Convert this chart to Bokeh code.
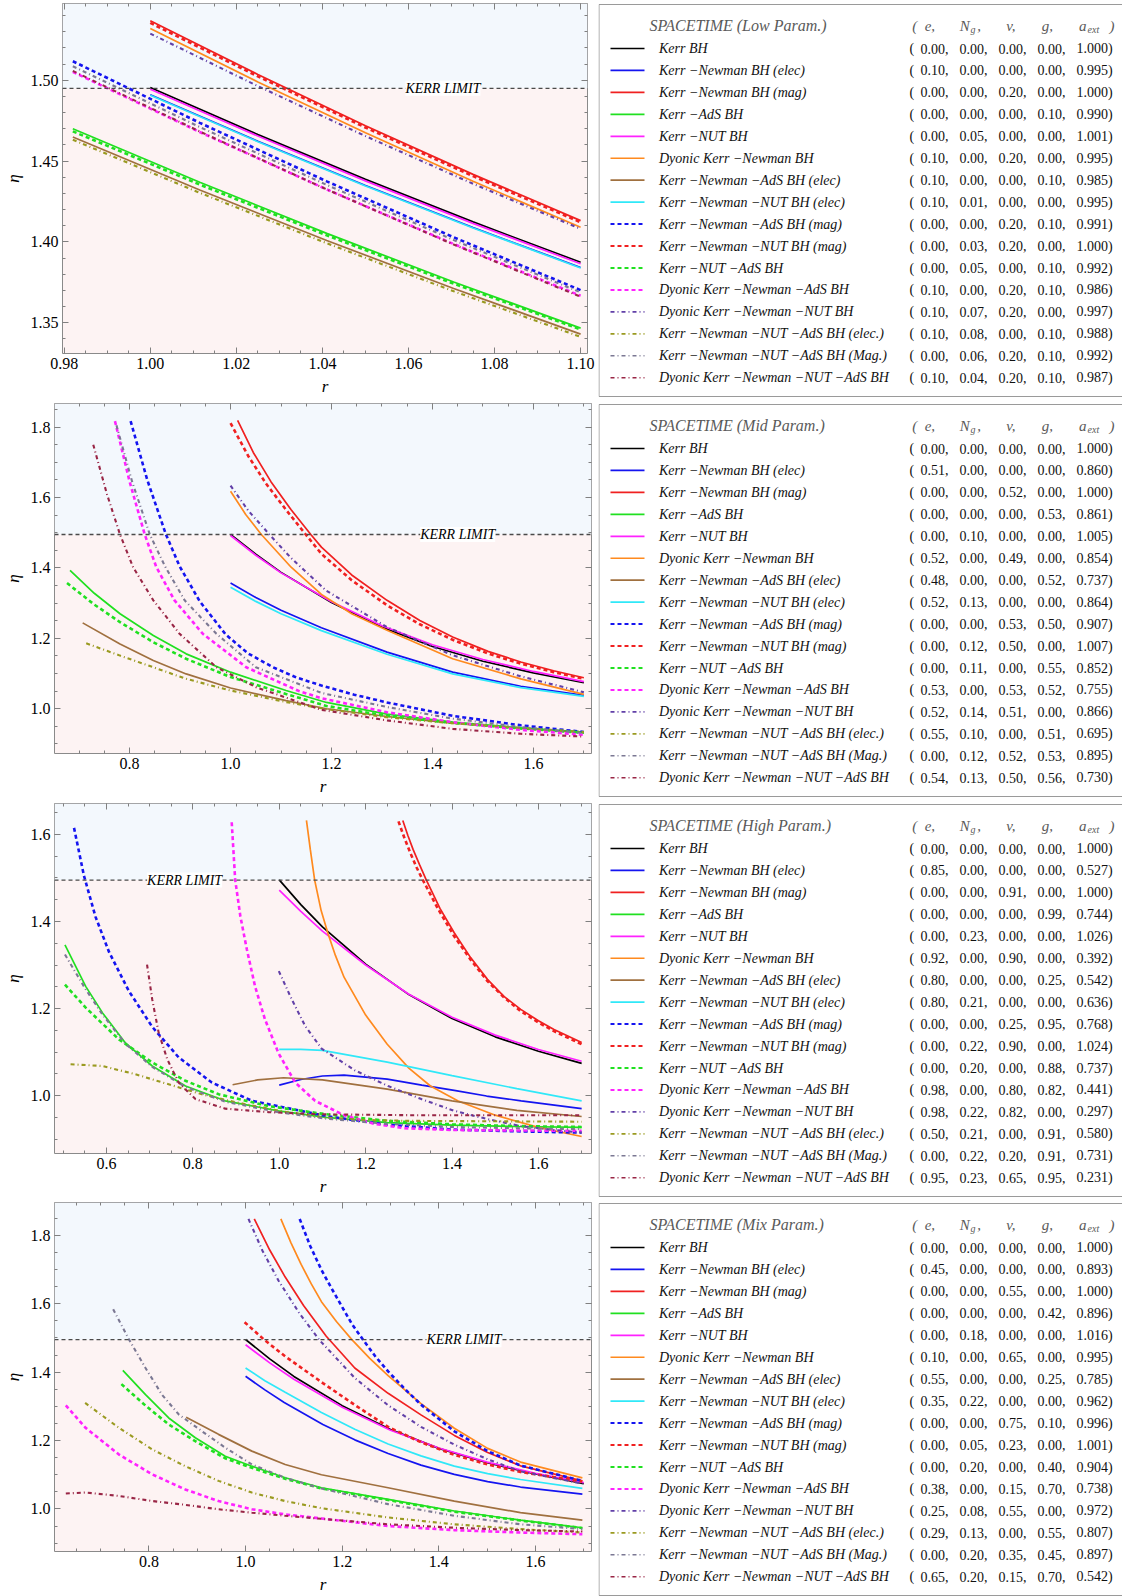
from bokeh.plotting import figure
from bokeh.models import (Range1d, LinearAxis, SingleIntervalTicker, PrintfTickFormatter,
                          BoxAnnotation, Span, Label)
from bokeh.layouts import row, column
from bokeh.embed import file_html
from bokeh.resources import INLINE
from bokeh.core.properties import value

# ---------------------------------------------------------------- data
KERR_LIMIT = 1.495

NAMES = ["Kerr BH", "Kerr −Newman BH (elec)", "Kerr −Newman BH (mag)", "Kerr −AdS BH",
         "Kerr −NUT BH", "Dyonic Kerr −Newman BH", "Kerr −Newman −AdS BH (elec)",
         "Kerr −Newman −NUT BH (elec)", "Kerr −Newman −AdS BH (mag)",
         "Kerr −Newman −NUT BH (mag)", "Kerr −NUT −AdS BH", "Dyonic Kerr −Newman −AdS BH",
         "Dyonic Kerr −Newman −NUT BH", "Kerr −Newman −NUT −AdS BH (elec.)",
         "Kerr −Newman −NUT −AdS BH (Mag.)", "Dyonic Kerr −Newman −NUT −AdS BH"]

TITLES = ["SPACETIME (Low Param.)", "SPACETIME (Mid Param.)",
          "SPACETIME (High Param.)", "SPACETIME (Mix Param.)"]

LOW_PARAMS = [(0.00, 0.00, 0.00, 0.00, 1.000), (0.10, 0.00, 0.00, 0.00, 0.995),
              (0.00, 0.00, 0.20, 0.00, 1.000), (0.00, 0.00, 0.00, 0.10, 0.990),
              (0.00, 0.05, 0.00, 0.00, 1.001), (0.10, 0.00, 0.20, 0.00, 0.995),
              (0.10, 0.00, 0.00, 0.10, 0.985), (0.10, 0.01, 0.00, 0.00, 0.995),
              (0.00, 0.00, 0.20, 0.10, 0.991), (0.00, 0.03, 0.20, 0.00, 1.000),
              (0.00, 0.05, 0.00, 0.10, 0.992), (0.10, 0.00, 0.20, 0.10, 0.986),
              (0.10, 0.07, 0.20, 0.00, 0.997), (0.10, 0.08, 0.00, 0.10, 0.988),
              (0.00, 0.06, 0.20, 0.10, 0.992), (0.10, 0.04, 0.20, 0.10, 0.987)]
MID_PARAMS = [(0.00, 0.00, 0.00, 0.00, 1.000), (0.51, 0.00, 0.00, 0.00, 0.860),
              (0.00, 0.00, 0.52, 0.00, 1.000), (0.00, 0.00, 0.00, 0.53, 0.861),
              (0.00, 0.10, 0.00, 0.00, 1.005), (0.52, 0.00, 0.49, 0.00, 0.854),
              (0.48, 0.00, 0.00, 0.52, 0.737), (0.52, 0.13, 0.00, 0.00, 0.864),
              (0.00, 0.00, 0.53, 0.50, 0.907), (0.00, 0.12, 0.50, 0.00, 1.007),
              (0.00, 0.11, 0.00, 0.55, 0.852), (0.53, 0.00, 0.53, 0.52, 0.755),
              (0.52, 0.14, 0.51, 0.00, 0.866), (0.55, 0.10, 0.00, 0.51, 0.695),
              (0.00, 0.12, 0.52, 0.53, 0.895), (0.54, 0.13, 0.50, 0.56, 0.730)]
HIGH_PARAMS = [(0.00, 0.00, 0.00, 0.00, 1.000), (0.85, 0.00, 0.00, 0.00, 0.527),
               (0.00, 0.00, 0.91, 0.00, 1.000), (0.00, 0.00, 0.00, 0.99, 0.744),
               (0.00, 0.23, 0.00, 0.00, 1.026), (0.92, 0.00, 0.90, 0.00, 0.392),
               (0.80, 0.00, 0.00, 0.25, 0.542), (0.80, 0.21, 0.00, 0.00, 0.636),
               (0.00, 0.00, 0.25, 0.95, 0.768), (0.00, 0.22, 0.90, 0.00, 1.024),
               (0.00, 0.20, 0.00, 0.88, 0.737), (0.98, 0.00, 0.80, 0.82, 0.441),
               (0.98, 0.22, 0.82, 0.00, 0.297), (0.50, 0.21, 0.00, 0.91, 0.580),
               (0.00, 0.22, 0.20, 0.91, 0.731), (0.95, 0.23, 0.65, 0.95, 0.231)]
MIX_PARAMS = [(0.00, 0.00, 0.00, 0.00, 1.000), (0.45, 0.00, 0.00, 0.00, 0.893),
              (0.00, 0.00, 0.55, 0.00, 1.000), (0.00, 0.00, 0.00, 0.42, 0.896),
              (0.00, 0.18, 0.00, 0.00, 1.016), (0.10, 0.00, 0.65, 0.00, 0.995),
              (0.55, 0.00, 0.00, 0.25, 0.785), (0.35, 0.22, 0.00, 0.00, 0.962),
              (0.00, 0.00, 0.75, 0.10, 0.996), (0.00, 0.05, 0.23, 0.00, 1.001),
              (0.00, 0.20, 0.00, 0.40, 0.904), (0.38, 0.00, 0.15, 0.70, 0.738),
              (0.25, 0.08, 0.55, 0.00, 0.972), (0.29, 0.13, 0.00, 0.55, 0.807),
              (0.00, 0.20, 0.35, 0.45, 0.897), (0.65, 0.20, 0.15, 0.70, 0.542)]

# ---- Low parameters: r and eta for the 16 spacetimes (legend order)
LOW_R = [
    [1.000, 1.025, 1.050, 1.075, 1.100],
    [1.000, 1.025, 1.050, 1.075, 1.100],
    [1.000, 1.025, 1.050, 1.075, 1.100],
    [0.982, 1.0115, 1.041, 1.0705, 1.100],
    [1.000, 1.025, 1.050, 1.075, 1.100],
    [1.000, 1.025, 1.050, 1.075, 1.100],
    [0.982, 1.0115, 1.041, 1.0705, 1.100],
    [1.000, 1.025, 1.050, 1.075, 1.100],
    [0.982, 1.0115, 1.041, 1.0705, 1.100],
    [1.000, 1.025, 1.050, 1.075, 1.100],
    [0.982, 1.0115, 1.041, 1.0705, 1.100],
    [0.982, 1.0115, 1.041, 1.0705, 1.100],
    [1.000, 1.025, 1.050, 1.075, 1.100],
    [0.982, 1.0115, 1.041, 1.0705, 1.100],
    [0.982, 1.0115, 1.041, 1.0705, 1.100],
    [0.982, 1.0115, 1.041, 1.0705, 1.100],
]
LOW_ETA = [
    [1.4955, 1.4664, 1.4387, 1.4124, 1.3874],
    [1.4910, 1.4623, 1.4349, 1.4089, 1.3842],
    [1.5368, 1.5036, 1.4719, 1.4418, 1.4132],
    [1.4700, 1.4369, 1.4053, 1.3752, 1.3467],
    [1.4945, 1.4655, 1.4378, 1.4115, 1.3865],
    [1.5320, 1.4990, 1.4675, 1.4375, 1.4091],
    [1.4649, 1.4321, 1.4009, 1.3712, 1.3430],
    [1.4907, 1.4620, 1.4346, 1.4086, 1.3839],
    [1.5118, 1.4737, 1.4375, 1.4029, 1.3702],
    [1.5355, 1.5024, 1.4708, 1.4407, 1.4122],
    [1.4684, 1.4355, 1.4041, 1.3742, 1.3459],
    [1.5052, 1.4680, 1.4325, 1.3987, 1.3667],
    [1.5289, 1.4964, 1.4655, 1.4360, 1.4081],
    [1.4632, 1.4304, 1.3992, 1.3695, 1.3413],
    [1.5087, 1.4711, 1.4353, 1.4012, 1.3688],
    [1.5058, 1.4683, 1.4325, 1.3984, 1.3661],
]

# ---- Mid parameters
MID_R = [
    [1.0, 1.05, 1.1, 1.2, 1.3, 1.4, 1.5, 1.6, 1.7],
    [1.0, 1.05, 1.1, 1.18, 1.31, 1.44, 1.575, 1.70],
    [1.014, 1.045, 1.08, 1.12, 1.159, 1.18, 1.24, 1.31, 1.375, 1.44, 1.51, 1.575, 1.64, 1.70],
    [0.682, 0.73, 0.781, 0.847, 0.912, 1.0, 1.11, 1.19, 1.31, 1.44, 1.575, 1.70],
    [1.0, 1.05, 1.1, 1.2, 1.3, 1.4, 1.5, 1.6, 1.7],
    [1.0, 1.03, 1.061, 1.12, 1.18, 1.24, 1.31, 1.44, 1.575, 1.70],
    [0.707, 0.781, 0.847, 0.912, 1.0, 1.11, 1.19, 1.31, 1.44, 1.575, 1.70],
    [1.0, 1.05, 1.1, 1.18, 1.31, 1.44, 1.575, 1.70],
    [0.802, 0.835, 0.872, 0.899, 0.939, 0.991, 1.035, 1.084, 1.13, 1.18, 1.245, 1.31, 1.44, 1.575, 1.70],
    [1.0, 1.035, 1.07, 1.11, 1.149, 1.18, 1.24, 1.31, 1.375, 1.44, 1.51, 1.575, 1.64, 1.70],
    [0.676, 0.73, 0.781, 0.847, 0.912, 1.0, 1.11, 1.19, 1.31, 1.44, 1.575, 1.70],
    [0.771, 0.80, 0.83, 0.853, 0.889, 0.945, 1.031, 1.136, 1.18, 1.31, 1.44, 1.575, 1.70],
    [1.0, 1.035, 1.077, 1.12, 1.19, 1.31, 1.44, 1.575, 1.70],
    [0.714, 0.781, 0.847, 0.912, 1.0, 1.11, 1.19, 1.31, 1.44, 1.575, 1.70],
    [0.774, 0.805, 0.840, 0.87, 0.909, 0.972, 1.05, 1.18, 1.31, 1.44, 1.575, 1.70],
    [0.728, 0.755, 0.781, 0.807, 0.847, 0.899, 0.972, 1.051, 1.18, 1.31, 1.44, 1.575, 1.70],
]
MID_ETA = [
    [1.4955, 1.4388, 1.3874, 1.302, 1.232, 1.177, 1.135, 1.102, 1.074],
    [1.357, 1.316, 1.280, 1.230, 1.161, 1.104, 1.064, 1.038],
    [1.819, 1.728, 1.645, 1.565, 1.495, 1.459, 1.380, 1.308, 1.251, 1.204, 1.163, 1.133, 1.108, 1.088],
    [1.393, 1.328, 1.270, 1.208, 1.156, 1.104, 1.052, 1.018, 0.985, 0.962, 0.946, 0.934],
    [1.492, 1.436, 1.386, 1.304, 1.236, 1.182, 1.140, 1.106, 1.077],
    [1.618, 1.552, 1.495, 1.402, 1.325, 1.270, 1.223, 1.142, 1.085, 1.041],
    [1.244, 1.184, 1.137, 1.099, 1.059, 1.023, 1.000, 0.978, 0.959, 0.944, 0.932],
    [1.345, 1.305, 1.270, 1.222, 1.155, 1.099, 1.060, 1.035],
    [1.817, 1.650, 1.495, 1.405, 1.305, 1.210, 1.157, 1.118, 1.089, 1.066, 1.040, 1.018, 0.980, 0.953, 0.934],
    [1.811, 1.718, 1.640, 1.565, 1.495, 1.440, 1.365, 1.294, 1.240, 1.196, 1.157, 1.128, 1.104, 1.085],
    [1.357, 1.296, 1.246, 1.189, 1.142, 1.090, 1.042, 1.008, 0.980, 0.960, 0.944, 0.932],
    [1.817, 1.645, 1.495, 1.402, 1.308, 1.213, 1.118, 1.050, 1.030, 0.990, 0.962, 0.940, 0.926],
    [1.634, 1.563, 1.495, 1.428, 1.335, 1.232, 1.152, 1.092, 1.047],
    [1.186, 1.151, 1.118, 1.085, 1.052, 1.019, 0.999, 0.976, 0.959, 0.946, 0.934],
    [1.805, 1.645, 1.495, 1.405, 1.308, 1.213, 1.118, 1.045, 1.005, 0.972, 0.948, 0.931],
    [1.750, 1.610, 1.495, 1.402, 1.308, 1.213, 1.118, 1.061, 0.997, 0.967, 0.943, 0.929, 0.921],
]

# ---- High parameters
HIGH_R = [
    [1.0, 1.05, 1.1, 1.2, 1.3, 1.4, 1.5, 1.6, 1.7],
    [1.0, 1.05, 1.1, 1.15, 1.25, 1.33, 1.405, 1.48, 1.56, 1.70],
    [1.286, 1.298, 1.31, 1.325, 1.34, 1.372, 1.405, 1.443, 1.482, 1.52, 1.559, 1.6, 1.636, 1.70],
    [0.504, 0.552, 0.591, 0.644, 0.706, 0.783, 0.875, 0.998, 1.109, 1.25, 1.4, 1.55, 1.70],
    [1.0, 1.05, 1.1, 1.2, 1.3, 1.4, 1.5, 1.6, 1.7],
    [1.063, 1.072, 1.082, 1.097, 1.113, 1.13, 1.15, 1.2, 1.25, 1.3, 1.35, 1.413, 1.5, 1.6, 1.7],
    [0.892, 0.95, 1.01, 1.1, 1.25, 1.4, 1.55, 1.70],
    [1.0, 1.05, 1.1, 1.25, 1.4, 1.55, 1.70],
    [0.525, 0.548, 0.575, 0.606, 0.652, 0.706, 0.767, 0.844, 0.937, 1.109, 1.25, 1.4, 1.55, 1.70],
    [1.276, 1.29, 1.304, 1.318, 1.332, 1.368, 1.405, 1.443, 1.482, 1.52, 1.559, 1.6, 1.636, 1.70],
    [0.504, 0.552, 0.629, 0.706, 0.783, 0.860, 0.975, 1.109, 1.25, 1.4, 1.55, 1.70],
    [0.890, 0.898, 0.910, 0.925, 0.944, 0.967, 0.998, 1.037, 1.083, 1.15, 1.22, 1.29, 1.4, 1.55, 1.70],
    [0.999, 1.029, 1.060, 1.098, 1.175, 1.252, 1.329, 1.405, 1.482, 1.559, 1.636, 1.70],
    [0.517, 0.591, 0.667, 0.744, 0.821, 0.898, 1.0, 1.1, 1.2, 1.3, 1.5, 1.70],
    [0.504, 0.552, 0.591, 0.644, 0.706, 0.783, 0.875, 0.998, 1.109, 1.25, 1.4, 1.55, 1.70],
    [0.694, 0.706, 0.721, 0.741, 0.767, 0.806, 0.875, 0.975, 1.1, 1.3, 1.5, 1.70],
]
HIGH_ETA = [
    [1.4955, 1.4388, 1.3874, 1.302, 1.232, 1.177, 1.135, 1.102, 1.074],
    [1.024, 1.037, 1.045, 1.047, 1.038, 1.024, 1.012, 0.999, 0.988, 0.970],
    [1.632, 1.597, 1.565, 1.530, 1.496, 1.430, 1.374, 1.317, 1.267, 1.228, 1.198, 1.172, 1.152, 1.122],
    [1.346, 1.251, 1.190, 1.121, 1.068, 1.022, 0.988, 0.965, 0.950, 0.938, 0.932, 0.929, 0.927],
    [1.472, 1.423, 1.378, 1.300, 1.233, 1.180, 1.139, 1.106, 1.079],
    [1.632, 1.565, 1.495, 1.425, 1.372, 1.322, 1.272, 1.185, 1.118, 1.063, 1.022, 0.988, 0.955, 0.927, 0.906],
    [1.025, 1.036, 1.041, 1.036, 1.015, 0.988, 0.966, 0.952],
    [1.106, 1.106, 1.104, 1.077, 1.046, 1.016, 0.988],
    [1.615, 1.505, 1.410, 1.330, 1.240, 1.158, 1.088, 1.030, 0.988, 0.953, 0.933, 0.922, 0.918, 0.915],
    [1.630, 1.591, 1.556, 1.524, 1.496, 1.428, 1.366, 1.312, 1.263, 1.226, 1.194, 1.168, 1.148, 1.118],
    [1.255, 1.202, 1.129, 1.076, 1.034, 1.003, 0.976, 0.957, 0.942, 0.934, 0.930, 0.928],
    [1.628, 1.496, 1.412, 1.336, 1.251, 1.175, 1.098, 1.030, 0.988, 0.955, 0.935, 0.925, 0.921, 0.920, 0.919],
    [1.286, 1.221, 1.160, 1.108, 1.058, 1.022, 0.992, 0.965, 0.946, 0.930, 0.921, 0.915],
    [1.072, 1.068, 1.049, 1.026, 1.003, 0.985, 0.965, 0.950, 0.944, 0.942, 0.941, 0.940],
    [1.324, 1.244, 1.186, 1.119, 1.066, 1.020, 0.986, 0.962, 0.947, 0.935, 0.928, 0.925, 0.923],
    [1.301, 1.221, 1.144, 1.083, 1.030, 0.992, 0.970, 0.962, 0.957, 0.955, 0.955, 0.955],
]

# ---- Mix parameters
MIX_R = [
    [1.0, 1.05, 1.1, 1.2, 1.3, 1.4, 1.5, 1.6, 1.7],
    [1.0, 1.04, 1.08, 1.16, 1.226, 1.295, 1.363, 1.432, 1.501, 1.569, 1.697],
    [1.018, 1.05, 1.082, 1.12, 1.167, 1.226, 1.295, 1.363, 1.432, 1.501, 1.569, 1.697],
    [0.746, 0.793, 0.841, 0.896, 0.958, 1.013, 1.082, 1.157, 1.295, 1.432, 1.569, 1.697],
    [1.0, 1.05, 1.1, 1.2, 1.3, 1.4, 1.5, 1.6, 1.7],
    [1.073, 1.094, 1.115, 1.136, 1.157, 1.188, 1.22, 1.257, 1.295, 1.363, 1.432, 1.501, 1.569, 1.697],
    [0.877, 0.944, 1.013, 1.082, 1.157, 1.295, 1.432, 1.569, 1.697],
    [1.0, 1.04, 1.082, 1.157, 1.226, 1.295, 1.363, 1.432, 1.501, 1.569, 1.697],
    [1.112, 1.134, 1.157, 1.178, 1.2, 1.22, 1.243, 1.268, 1.295, 1.33, 1.363, 1.432, 1.501, 1.569, 1.697],
    [0.998, 1.04, 1.082, 1.16, 1.226, 1.295, 1.363, 1.432, 1.501, 1.569, 1.697],
    [0.743, 0.793, 0.841, 0.896, 0.958, 1.013, 1.082, 1.157, 1.295, 1.432, 1.569, 1.697],
    [0.628, 0.669, 0.738, 0.807, 0.875, 0.944, 1.013, 1.082, 1.157, 1.295, 1.432, 1.569, 1.697],
    [1.006, 1.035, 1.068, 1.11, 1.152, 1.226, 1.295, 1.363, 1.432, 1.501, 1.569, 1.697],
    [0.668, 0.738, 0.807, 0.875, 0.944, 1.013, 1.082, 1.157, 1.295, 1.432, 1.569, 1.697],
    [0.726, 0.759, 0.793, 0.827, 0.862, 0.910, 0.958, 1.013, 1.082, 1.157, 1.295, 1.432, 1.569, 1.697],
    [0.628, 0.669, 0.738, 0.807, 0.875, 0.944, 1.013, 1.082, 1.167, 1.295, 1.432, 1.569, 1.697],
]
MIX_ETA = [
    [1.4955, 1.4388, 1.3874, 1.302, 1.232, 1.177, 1.135, 1.102, 1.074],
    [1.388, 1.348, 1.311, 1.247, 1.202, 1.162, 1.128, 1.101, 1.080, 1.064, 1.043],
    [1.848, 1.757, 1.678, 1.595, 1.505, 1.412, 1.338, 1.275, 1.215, 1.165, 1.126, 1.082],
    [1.405, 1.334, 1.266, 1.208, 1.154, 1.125, 1.091, 1.062, 1.028, 0.994, 0.967, 0.945],
    [1.480, 1.427, 1.379, 1.297, 1.230, 1.178, 1.137, 1.104, 1.077],
    [1.848, 1.778, 1.715, 1.658, 1.606, 1.548, 1.495, 1.440, 1.390, 1.308, 1.236, 1.177, 1.137, 1.091],
    [1.268, 1.218, 1.169, 1.130, 1.100, 1.062, 1.023, 0.989, 0.967],
    [1.412, 1.375, 1.341, 1.282, 1.233, 1.190, 1.155, 1.125, 1.103, 1.086, 1.060],
    [1.848, 1.768, 1.699, 1.645, 1.590, 1.541, 1.495, 1.447, 1.402, 1.350, 1.305, 1.227, 1.169, 1.127, 1.082],
    [1.546, 1.493, 1.446, 1.368, 1.304, 1.240, 1.195, 1.158, 1.130, 1.108, 1.080],
    [1.365, 1.302, 1.247, 1.198, 1.148, 1.120, 1.088, 1.060, 1.026, 0.992, 0.966, 0.944],
    [1.303, 1.237, 1.159, 1.101, 1.057, 1.023, 0.999, 0.984, 0.972, 0.950, 0.938, 0.931, 0.926],
    [1.848, 1.755, 1.668, 1.575, 1.495, 1.383, 1.303, 1.240, 1.188, 1.145, 1.110, 1.074],
    [1.310, 1.237, 1.174, 1.125, 1.082, 1.048, 1.023, 1.002, 0.975, 0.955, 0.941, 0.931],
    [1.584, 1.495, 1.412, 1.334, 1.276, 1.227, 1.179, 1.130, 1.091, 1.060, 1.014, 0.980, 0.955, 0.941],
    [1.045, 1.048, 1.038, 1.023, 1.012, 0.999, 0.989, 0.980, 0.970, 0.955, 0.945, 0.938, 0.934],
]

# ---------------------------------------------------------------- styles
COLORS = ["#000000", "#1414F0", "#F02020", "#20E020", "#FF22FF", "#FF8A1E", "#A0703F",
          "#30E8F8", "#1414F0", "#F02020", "#20E020", "#FF22FF", "#6240A8", "#9A9A20",
          "#7B7893", "#992545"]
KINDS = ["s"] * 8 + ["d"] * 4 + ["dd"] * 4
SERIF = "'Liberation Serif', Times, serif"
TOP_BG = "#F3F8FD"
LOW_BG = "#FDF3F3"

PANELS = [
    dict(R=LOW_R, E=LOW_ETA, P=LOW_PARAMS, title=TITLES[0], H=400, left=61, right=11,
         xr=(0.9796, 1.1016), yr=(1.331, 1.5475), xi=0.02, yi=0.05, nmx=4, nmy=5,
         fmt="%.2f", lx=1.068),
    dict(R=MID_R, E=MID_ETA, P=MID_PARAMS, title=TITLES[1], H=400, left=52, right=7,
         xr=(0.6512, 1.7151), yr=(0.873, 1.867), xi=0.2, yi=0.2, nmx=4, nmy=4,
         fmt="%.1f", lx=1.45),
    dict(R=HIGH_R, E=HIGH_ETA, P=HIGH_PARAMS, title=TITLES[2], H=399, left=52, right=7,
         xr=(0.4798, 1.7228), yr=(0.867, 1.671), xi=0.2, yi=0.2, nmx=4, nmy=4,
         fmt="%.1f", lx=0.781),
    dict(R=MIX_R, E=MIX_ETA, P=MIX_PARAMS, title=TITLES[3], H=397, left=52, right=7,
         xr=(0.6046, 1.7159), yr=(0.8755, 1.896), xi=0.2, yi=0.2, nmx=4, nmy=4,
         fmt="%.1f", lx=1.452),
]


def no_align(p):
    try:
        p.frame_align = False
    except Exception:
        pass


def line_style(kind, legend=False):
    if kind == "s":
        return dict(line_width=1.7, line_dash="solid")
    if kind == "d":
        return dict(line_width=2.0 if legend else 2.6, line_dash="4 3")
    return dict(line_width=1.6 if legend else 2.1, line_dash="4 3 1 3")


def style_axis(ax, fmt, show):
    ax.axis_line_color = None
    ax.major_tick_in = 6
    ax.major_tick_out = 0
    ax.minor_tick_in = 3
    ax.minor_tick_out = 0
    ax.major_tick_line_color = "#808080"
    ax.minor_tick_line_color = "#808080"
    ax.formatter = PrintfTickFormatter(format=fmt)
    if show:
        ax.major_label_text_font = SERIF
        ax.major_label_text_font_size = "16px"
        ax.major_label_text_color = "black"
        ax.major_label_standoff = 4
        ax.axis_label_text_font = SERIF
        ax.axis_label_text_font_style = "italic"
        ax.axis_label_text_font_size = "17px"
        ax.axis_label_text_color = "black"
        ax.axis_label_standoff = 5
    else:
        ax.major_label_text_font_size = "0px"
        ax.major_label_text_color = None
        ax.major_label_standoff = 0


def make_plot(cfg):
    H = cfg["H"]
    p = figure(width=598, height=H, x_range=Range1d(*cfg["xr"]), y_range=Range1d(*cfg["yr"]),
               x_axis_type=None, y_axis_type=None, output_backend="svg",
               toolbar_location=None, min_border_left=cfg["left"],
               min_border_right=cfg["right"], min_border_top=3,
               min_border_bottom=H - 353)
    no_align(p)
    p.background_fill_color = LOW_BG
    p.border_fill_color = "white"
    p.outline_line_color = "#8a8a8a"
    p.outline_line_width = 1
    p.add_layout(BoxAnnotation(bottom=KERR_LIMIT, fill_color=TOP_BG, fill_alpha=1.0,
                               line_alpha=0, level="underlay"))

    for side, interval, nm, label, show in (("below", cfg["xi"], cfg["nmx"], "r", True),
                                            ("left", cfg["yi"], cfg["nmy"], "η", True),
                                            ("above", cfg["xi"], cfg["nmx"], None, False),
                                            ("right", cfg["yi"], cfg["nmy"], None, False)):
        ax = LinearAxis(ticker=SingleIntervalTicker(interval=interval, num_minor_ticks=nm))
        if label:
            ax.axis_label = label
        style_axis(ax, cfg["fmt"], show)
        p.add_layout(ax, side)

    p.add_layout(Span(location=KERR_LIMIT, dimension="width", line_color="#4a4a4a",
                      line_dash="4 3", line_width=1.3))

    for i in range(16):
        p.line(cfg["R"][i], cfg["E"][i], line_color=COLORS[i], **line_style(KINDS[i]))

    p.add_layout(Label(x=cfg["lx"], y=KERR_LIMIT, text="KERR LIMIT", text_font=SERIF,
                       text_font_style="italic", text_font_size="14px", text_color="black",
                       text_align="center", text_baseline="middle",
                       background_fill_color="white", background_fill_alpha=1.0))
    return p


def make_legend(cfg):
    H = cfg["H"]
    p = figure(width=524, height=H, x_range=Range1d(0, 524), y_range=Range1d(H, 0),
               x_axis_type=None, y_axis_type=None, output_backend="svg",
               toolbar_location=None, min_border=0, min_border_left=0, min_border_right=0,
               min_border_top=0, min_border_bottom=0)
    no_align(p)
    p.outline_line_color = None
    p.background_fill_color = "white"
    p.border_fill_color = "white"
    p.quad(left=[0.5], right=[560], top=[4], bottom=[396], fill_color="white",
           line_color="#9a9a9a", line_width=1)

    grey = "#5a5a5a"
    serif = value(SERIF)
    p.text(x=[51], y=[25], text=[cfg["title"]], text_font=serif, text_font_style="italic",
           text_font_size="16px", text_color=grey, text_baseline="middle")
    p.text(x=[313.7, 326.2, 361.2, 378.8, 407.7, 443.3, 480.6, 511],
           y=[25] * 8, text=["(", "e,", "N", ",", "v,", "g,", "a", ")"],
           text_font=serif, text_font_style="italic", text_font_size="15px",
           text_color=grey, text_baseline="middle")
    p.text(x=[372, 489], y=[29, 29], text=["g", "ext"], text_font=serif,
           text_font_style="italic", text_font_size="10px", text_color=grey,
           text_baseline="middle")

    ys = [48 + 21.95 * i for i in range(16)]
    for i in range(16):
        p.line([12, 46], [ys[i], ys[i]], line_color=COLORS[i],
               **line_style(KINDS[i], legend=True))
    p.text(x=[60.5] * 16, y=ys, text=NAMES, text_font=serif, text_font_style="italic",
           text_font_size="14px", text_color="#111111", text_baseline="middle")
    p.text(x=[311] * 16, y=ys, text=["("] * 16, text_font=serif, text_font_size="14px",
           text_color="#111111", text_baseline="middle")
    cols = [322, 361, 400, 439]
    for c in range(4):
        p.text(x=[cols[c]] * 16, y=ys, text=["%.2f," % prm[c] for prm in cfg["P"]],
               text_font=serif, text_font_size="14px", text_color="#111111",
               text_baseline="middle")
    p.text(x=[478] * 16, y=ys, text=["%.3f)" % prm[4] for prm in cfg["P"]],
           text_font=serif, text_font_size="14px", text_color="#111111",
           text_baseline="middle")
    return p


rows = [row(make_plot(c), make_legend(c)) for c in PANELS]
layout = column(*rows)
open("out.html", "w").write(file_html(layout, INLINE))
